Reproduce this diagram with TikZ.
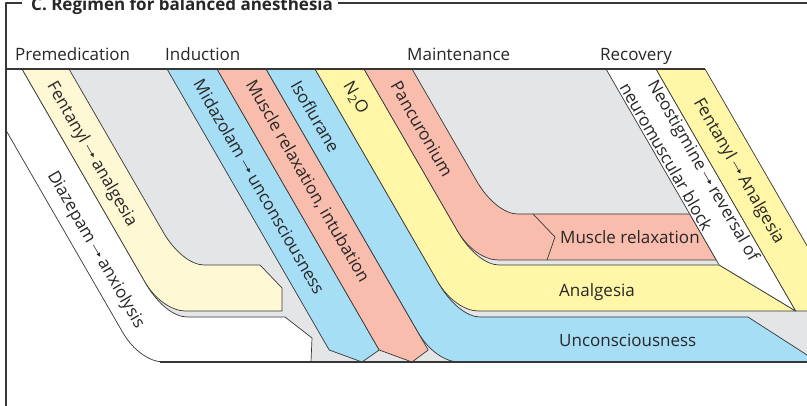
\documentclass[tikz,border=0pt]{standalone}
\usepackage{fontspec}
\setmainfont{Open Sans}
\usetikzlibrary{arrows.meta}
\definecolor{bg}{RGB}{227,229,230}
\definecolor{pyel}{RGB}{254,248,212}
\definecolor{yel}{RGB}{255,246,168}
\definecolor{blu}{RGB}{166,222,246}
\definecolor{sal}{RGB}{249,189,174}
\definecolor{ink}{RGB}{40,38,38}
\definecolor{edgec}{RGB}{55,55,55}
% rounded corner: diagonal (60 deg) to horizontal
\newcommand\crnDR[4]{-- ({#1-0.5*#3},{#2-0.866*#3}) .. controls ({#1-0.2*#3},{#2-0.3464*#3}) and ({#1+0.4*#4},{#2}) .. ({#1+#4},{#2})}
\newcommand\crnLU[4]{-- ({#1+#4},{#2}) .. controls ({#1+0.4*#4},{#2}) and ({#1-0.2*#3},{#2-0.3464*#3}) .. ({#1-0.5*#3},{#2-0.866*#3})}
\newcommand\arr{\hspace{0.22em}\tikz[baseline={(0pt,-0.3em)}]\draw[ink,line width=0.55pt,-{Triangle[length=3.8pt,width=3.8pt]}] (0pt,0pt) -- (0.8em,0pt);\hspace{0.22em}}
\begin{document}
\begin{tikzpicture}[x=1pt,y=-1pt,line join=round,
  bandline/.style={draw=edgec,line width=0.7pt},
  lbl/.style={text=ink,font=\fontsize{17}{20}\selectfont,inner sep=0pt},
  hl/.style={lbl,anchor=base west},
  rot/.style={lbl,rotate=-60,anchor=center}]
\useasboundingbox (0,0) rectangle (807,406);
\clip (0,0) rectangle (807,406);
% gray background
\fill[bg] (22,69) -- (705,69) -- (844.7,311) -- (850,311) -- (850,362) -- (200,362) -- (200,317) -- (165.2,317) -- cycle;
% Diazepam (white)
\filldraw[fill=white,bandline] (6,130.3) \crnDR{139.8}{362}{34}{24} -- (311,362) -- (312,338) -- (285,317) \crnLU{165.2}{317}{38}{22} -- (22,69) -- (6,69) -- cycle;
% Fentanyl premedication
\filldraw[fill=pyel,bandline] (22,69) -- (69,69) \crnDR{182.2}{265}{38}{22} -- (260,265) -- (282,288) -- (282,311) \crnLU{161.7}{311}{34}{24} -- cycle;
% Midazolam
\filldraw[fill=blu,bandline] (167,69) -- (217,69) -- (379.2,350) -- (362,362) -- (329.2,350) -- cycle;
% Muscle relaxation, intubation
\filldraw[fill=sal,bandline] (217,69) -- (266,69) -- (428.2,350) -- (412,362) -- (379.2,350) -- cycle;
% Isoflurane -> Unconsciousness
\filldraw[fill=blu,bandline] (266,69) -- (315,69) \crnDR{458.2}{317}{38}{22} -- (748,317) -- (817.9,362) \crnLU{435.2}{362}{34}{24} -- cycle;
% N2O -> Analgesia
\filldraw[fill=yel,bandline] (315,69) -- (364,69) \crnDR{477.2}{265}{38}{22} -- (719.2,265) -- (795.7,311) \crnLU{454.7}{311}{34}{24} -- cycle;
% Pancuronium -> Muscle relaxation
\filldraw[fill=sal,bandline] (364,69) -- (412,69) \crnDR{495.7}{214}{38}{22} -- (689.7,214) -- (716.3,260) \crnLU{474.3}{260}{34}{24} -- cycle;
\draw[bandline] (533,214) -- (555,237) -- (547,260);
% Neostigmine
\filldraw[fill=white,bandline] (606,69) -- (656,69) -- (795.7,311) -- (719.2,265) -- cycle;
% Fentanyl recovery
\filldraw[fill=yel,bandline] (656,69) -- (705,69) -- (844.7,311) -- (795.7,311) -- cycle;
% main lines
\draw[edgec,line width=1.3pt] (6,69) -- (705,69);
\draw[edgec,line width=1.2pt] (160,362) -- (807,362);
% frame and title
\node[anchor=base west,text=ink,inner sep=0pt,font=\bfseries\fontsize{17}{20}\selectfont] (title) at (31,11) {C. Regimen for balanced anesthesia};
\draw[edgec,line width=1.3pt] (6,406) -- (6,3) -- (22,3);
\draw[edgec,line width=1.3pt] (338,3) -- (807,3);
% phase labels
\node[hl] (pre) at (15,61) {Premedication};
\node[hl] (ind) at (165,61) {Induction};
\node[hl] (mai) at (407,61) {Maintenance};
\node[hl] (rec) at (600,61) {Recovery};
% horizontal band labels
\node[hl] (mr) at (560,244) {Muscle relaxation};
\node[hl] (an) at (559,297) {Analgesia};
\node[hl] (un) at (559,346.5) {Unconsciousness};
% rotated labels
\node[rot] (fa) at (91.5,154.5) {Fentanyl\arr analgesia};
\node[rot] (da) at (95.5,250) {Diazepam\arr anxiolysis};
\node[rot] (mu) at (259.5,186.5) {Midazolam\arr unconsciousness};
\node[rot] (mi) at (307.5,181.5) {Muscle relaxation, intubation};
\node[rot] (iso) at (315.5,116.5) {Isoflurane};
\node[rot] (n2o) at (355.5,98) {N\textsubscript{2}O};
\node[rot] (pan) at (422,129) {Pancuronium};
\node[rot] (neoa) at (702.5,171) {Neostigmine\arr reversal of};
\node[rot] (neob) at (666.5,156.5) {neuromuscular block};
\node[rot] (fb) at (738.5,171.5) {Fentanyl\arr Analgesia};
\end{tikzpicture}
\end{document}
